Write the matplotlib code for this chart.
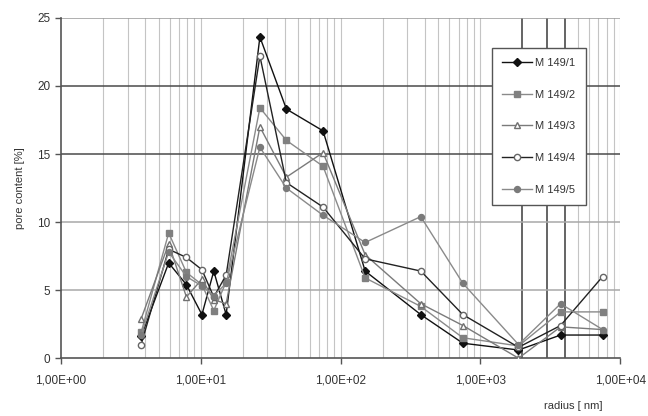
import numpy as np
import matplotlib
matplotlib.use('Agg')
from matplotlib import pyplot as plt
from matplotlib.ticker import FuncFormatter, LogLocator, NullFormatter

plt.rcParams['font.family'] = ['Liberation Sans', 'DejaVu Sans']

# pore radius classes [nm]
radius = [3.75, 5.9, 7.9, 10.2, 12.4, 15.2, 26.5, 41, 75, 150, 375, 750, 1875, 3750, 7500]

m149_1 = [1.6, 7.0, 5.4, 3.2, 6.4, 3.2, 23.6, 18.3, 16.7, 6.4, 3.2, 1.1, 0.6, 1.7, 1.7]
m149_2 = [1.9, 9.2, 6.3, 5.4, 3.5, 5.6, 18.4, 16.0, 14.1, 5.9, 3.8, 1.5, 0.9, 3.4, 3.4]
m149_3 = [2.9, 8.4, 4.5, 5.8, 4.3, 4.0, 17.0, 13.3, 15.1, 7.6, 4.0, 2.4, 0.0, 2.3, 2.1]
m149_4 = [1.0, 8.0, 7.4, 6.5, 4.5, 6.1, 22.2, 12.9, 11.1, 7.3, 6.4, 3.2, 0.8, 2.4, 6.0]
m149_5 = [1.7, 7.8, 6.0, 5.3, 4.6, 5.5, 15.5, 12.5, 10.5, 8.5, 10.4, 5.5, 1.0, 4.0, 2.1]

labels = ['M 149/1', 'M 149/2', 'M 149/3', 'M 149/4', 'M 149/5']

fig = plt.figure(figsize=(6.48, 4.16), dpi=100)
ax = fig.add_axes([0.094, 0.139, 0.863, 0.818])

ax.set_xscale('log')
ax.set_xlim(1, 1e4)
ax.set_ylim(0, 25)

# grid: light minor verticals, a few heavy ones in the upper decade
minor_x = [m * 10 ** e for e in range(0, 4) for m in range(2, 10)]
for v in minor_x:
    heavy = v in (2000, 3000, 4000)
    ax.axvline(v, color='#3a3a3a' if heavy else '#c4c4c4',
               lw=1.1 if heavy else 0.8, zorder=0.5)
for v in [10, 100, 1000, 10000]:
    ax.axvline(v, color='#c4c4c4', lw=0.8, zorder=0.5)
for v, c in [(5, '#a8a8a8'), (10, '#a8a8a8'), (15, '#4a4a4a'), (20, '#4a4a4a'), (25, '#9a9a9a')]:
    ax.axhline(v, color=c, lw=1.1, zorder=0.6)

styles = [
    dict(color='#111111', marker='D', mfc='#111111', mec='#111111', ms=4.2),
    dict(color='#8a8a8a', marker='s', mfc='#808080', mec='#808080', ms=4.5),
    dict(color='#7a7a7a', marker='^', mfc='white', mec='#707070', ms=5),
    dict(color='#222222', marker='o', mfc='white', mec='#666666', ms=4.5),
    dict(color='#8a8a8a', marker='o', mfc='#7a7a7a', mec='#7a7a7a', ms=4.3),
]
series = [m149_1, m149_2, m149_3, m149_4, m149_5]
for ys, lab, st in zip(series, labels, styles):
    ax.plot(radius, ys, lw=1.0, label=lab, zorder=3, **st)

for s in ['top', 'right']:
    ax.spines[s].set_visible(False)
for s in ['left', 'bottom']:
    ax.spines[s].set_color('#555555')
    ax.spines[s].set_linewidth(1.2)

ax.xaxis.set_major_locator(LogLocator(base=10, numticks=10))
ax.xaxis.set_minor_formatter(NullFormatter())
ax.xaxis.set_major_formatter(FuncFormatter(lambda v, p: f'{v:.2E}'.replace('.', ',')))
ax.set_yticks([0, 5, 10, 15, 20, 25])
ax.tick_params(axis='both', which='major', direction='out', length=4, width=1,
               color='#555555', labelsize=8.5, labelcolor='#333333')
ax.tick_params(axis='x', which='minor', length=0)
ax.tick_params(axis='x', pad=8)

ax.set_ylabel('pore content [%]', fontsize=8, color='#333333', labelpad=9)
fig.text(0.885, 0.018, 'radius [ nm]', fontsize=8, color='#333333', ha='center')

leg = ax.legend(loc='upper left', bbox_to_anchor=(0.771, 0.912), fontsize=8,
                labelspacing=1.95, handlelength=2.7, handletextpad=0.3,
                borderpad=0.9, borderaxespad=0, fancybox=False, framealpha=1,
                edgecolor='#555555')
leg.get_frame().set_linewidth(1.0)
for t in leg.get_texts():
    t.set_color('#333333')
leg.set_zorder(5)

fig.savefig('out.png', dpi=100)
